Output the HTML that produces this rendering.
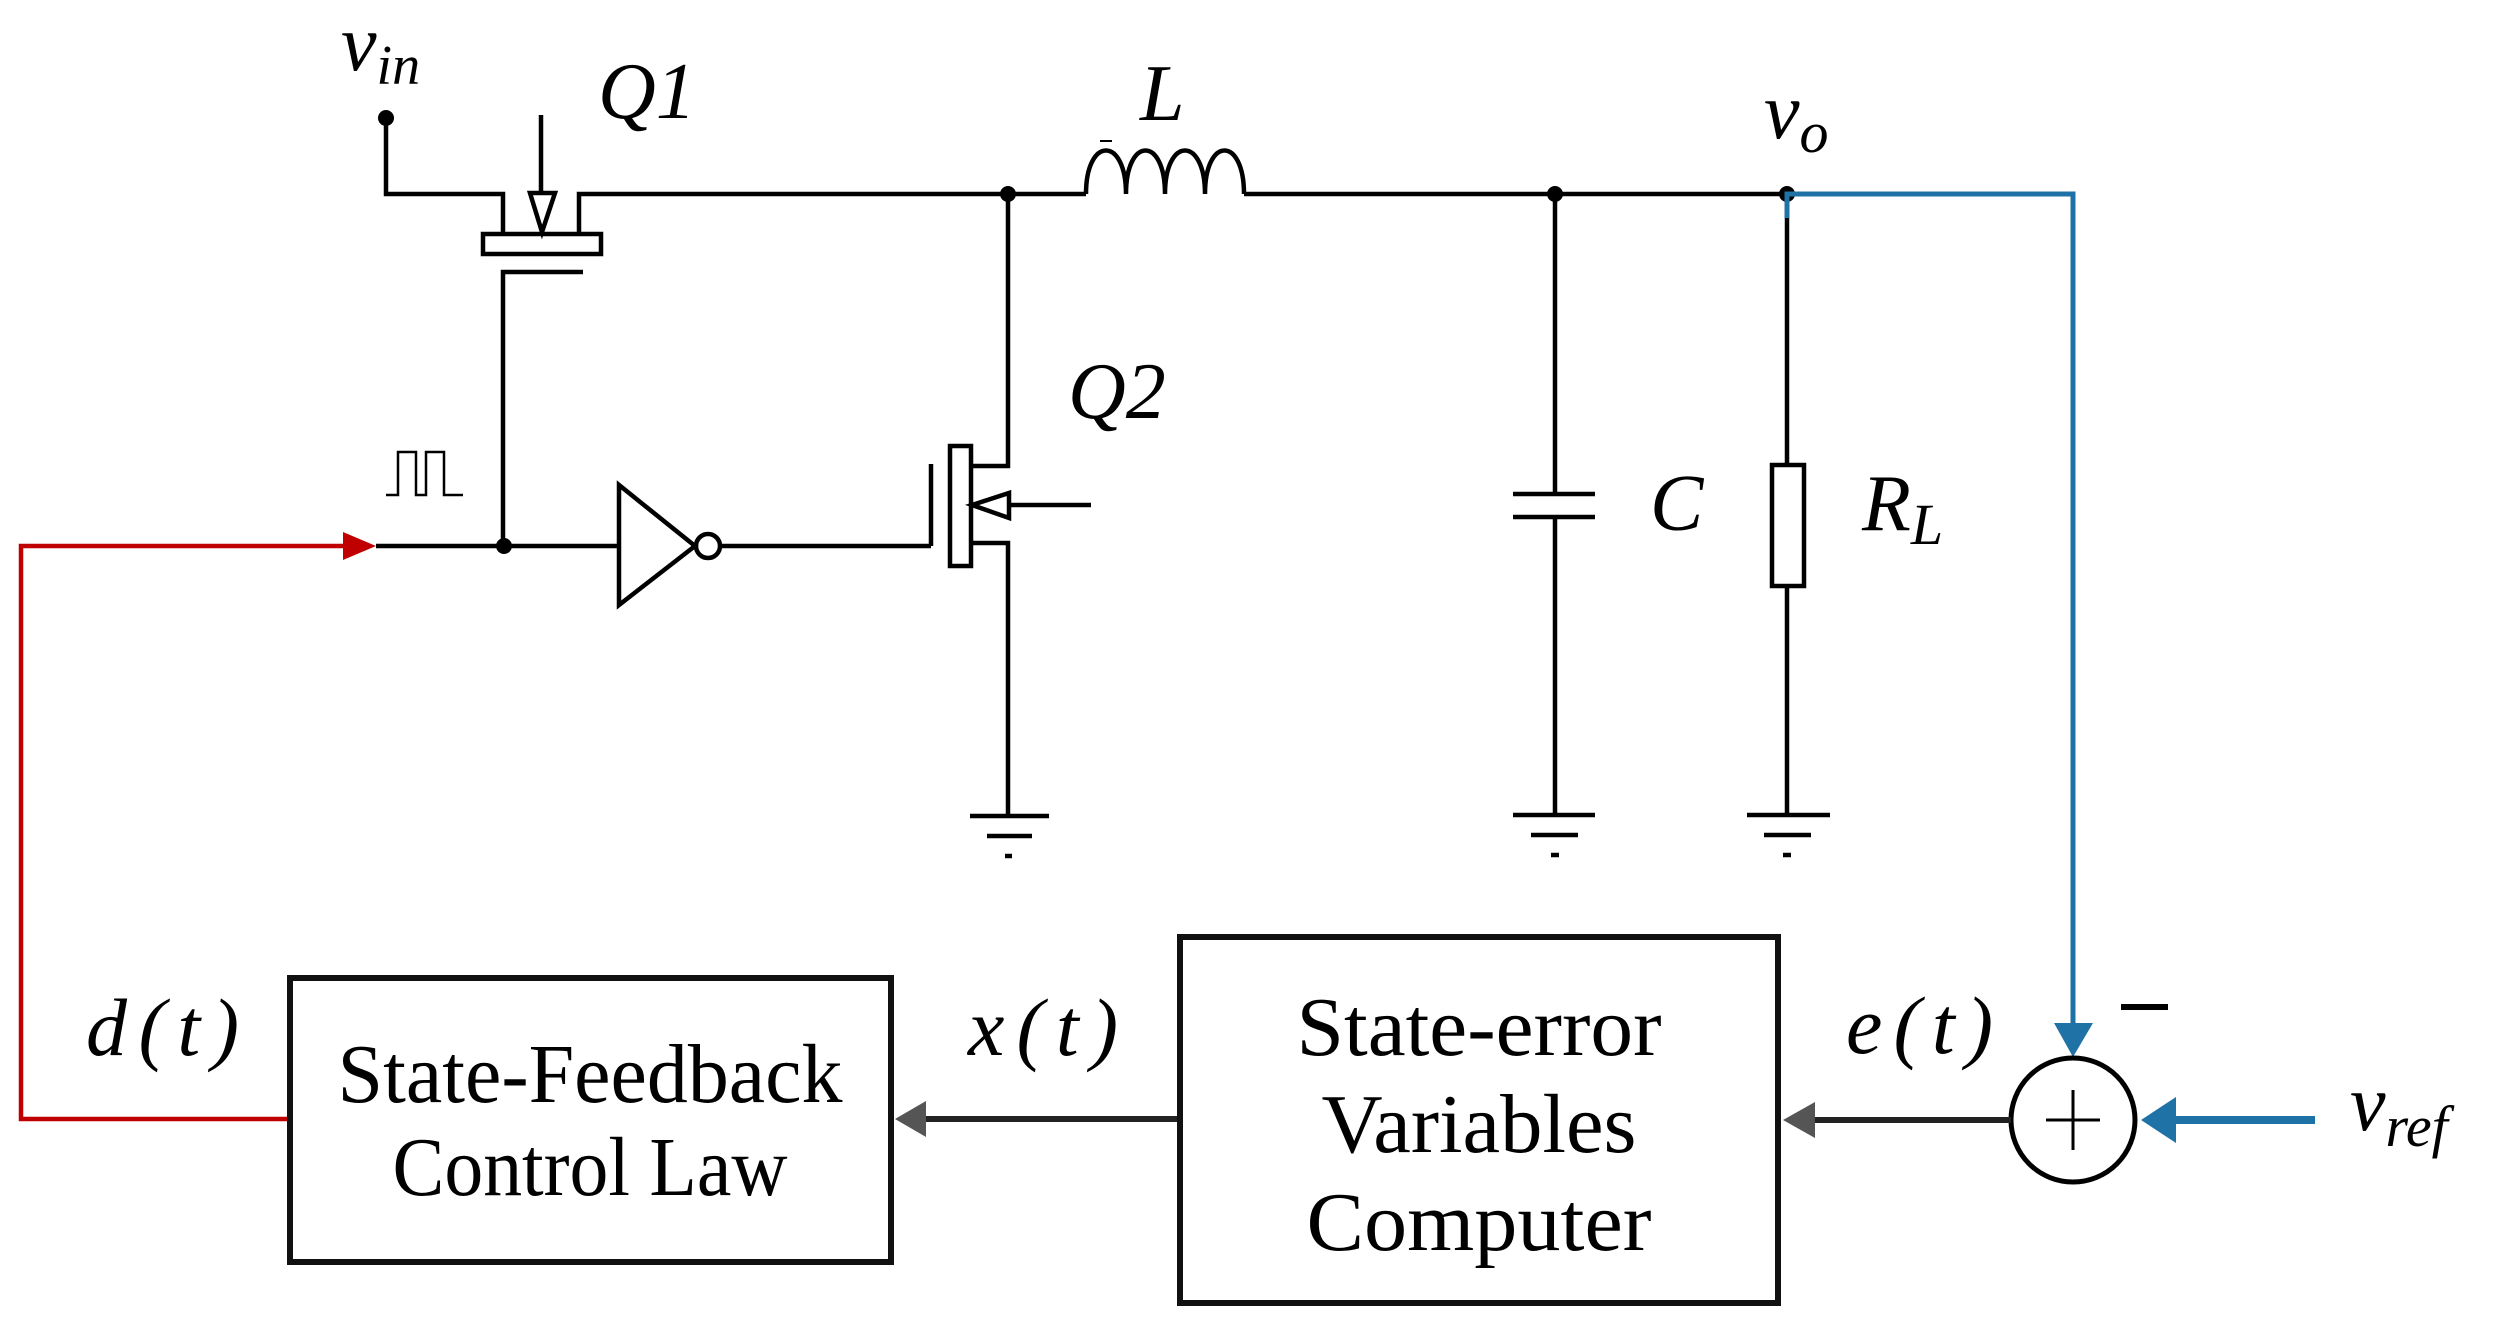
<!DOCTYPE html>
<html><head><meta charset="utf-8"><style>
html,body{margin:0;padding:0;background:#fff}
svg{display:block}
.m{font-family:"Liberation Serif",serif;font-style:italic;fill:#000}
.t{font-family:"Liberation Serif",serif;fill:#000}
</style></head><body>
<svg width="2513" height="1328" viewBox="0 0 2513 1328" xmlns="http://www.w3.org/2000/svg">
<g stroke="#000" stroke-width="4.5" fill="none">
<polyline points="386,118 386,194 503,194 503,234"/>
<polyline points="579,234 579,194 1086,194"/>
<rect x="483" y="234" width="118" height="20"/>
<polyline points="583,272 503,272 503,546"/>
<line x1="541" y1="115" x2="541" y2="193"/>
<polygon points="530,193 555,193 542,232"/>
<path d="M1086,194 C1086,136 1126,136 1126,194 C1126,136 1165,136 1165,194 C1165,136 1205,136 1205,194 C1205,136 1244,136 1244,194"/>
<line x1="1244" y1="194" x2="1787" y2="194"/>
<line x1="1100" y1="141" x2="1112" y2="141" stroke-width="2"/>
<polyline points="1008,194 1008,466 971,466"/>
<polyline points="971,543 1008,543 1008,816"/>
<rect x="950" y="446" width="21" height="120"/>
<line x1="931" y1="464" x2="931" y2="546"/>
<polygon points="972,505 1009,493 1009,518"/>
<line x1="1009" y1="505" x2="1091" y2="505"/>
<line x1="376" y1="546" x2="619" y2="546"/>
<polygon points="619,485 619,605 695,546"/>
<circle cx="708" cy="546" r="12"/>
<line x1="720" y1="546" x2="931" y2="546"/>
<polyline points="386,495 398,495 398,452 416,452 416,495 426,495 426,452 444,452 444,495 463,495" stroke-width="2.5"/>
<line x1="970" y1="816" x2="1049" y2="816"/>
<line x1="987" y1="836" x2="1032" y2="836"/>
<line x1="1005" y1="856" x2="1012" y2="856"/>
<line x1="1555" y1="194" x2="1555" y2="494"/>
<line x1="1513" y1="494" x2="1595" y2="494"/>
<line x1="1513" y1="517" x2="1595" y2="517"/>
<line x1="1555" y1="517" x2="1555" y2="815"/>
<line x1="1513" y1="815" x2="1595" y2="815"/>
<line x1="1531" y1="835" x2="1578" y2="835"/>
<line x1="1551" y1="855" x2="1559" y2="855"/>
<line x1="1787" y1="194" x2="1787" y2="465"/>
<rect x="1772" y="465" width="32" height="121"/>
<line x1="1787" y1="586" x2="1787" y2="815"/>
<line x1="1747" y1="815" x2="1830" y2="815"/>
<line x1="1764" y1="835" x2="1811" y2="835"/>
<line x1="1783" y1="855" x2="1791" y2="855"/>
</g>
<g fill="#000">
<circle cx="386" cy="118" r="8"/>
<circle cx="1008" cy="194" r="8"/>
<circle cx="504" cy="546" r="8"/>
<circle cx="1555" cy="194" r="8"/>
<circle cx="1787" cy="194" r="8"/>
</g>
<polyline points="290,1119 21,1119 21,546 345,546" stroke="#c00000" stroke-width="4.5" fill="none"/>
<polygon points="376,546 343,532 343,560" fill="#c00000"/>
<polyline points="1787,218 1787,194 2073,194 2073,1025" stroke="#1f72a6" stroke-width="5" fill="none"/>
<polygon points="2054,1023 2093,1023 2073,1057" fill="#1f72a6"/>
<line x1="2315" y1="1120" x2="2172" y2="1120" stroke="#1f72a6" stroke-width="8"/>
<polygon points="2141,1120 2176,1097 2176,1143" fill="#1f72a6"/>
<circle cx="2073" cy="1120" r="62" stroke="#000" stroke-width="5" fill="none"/>
<line x1="2073" y1="1090" x2="2073" y2="1150" stroke="#000" stroke-width="3"/>
<line x1="2046" y1="1120" x2="2100" y2="1120" stroke="#000" stroke-width="3"/>
<line x1="2121" y1="1007" x2="2168" y2="1007" stroke="#000" stroke-width="6"/>
<line x1="2011" y1="1120" x2="1812" y2="1120" stroke="#222" stroke-width="6"/>
<polygon points="1783,1120 1815,1102 1815,1138" fill="#555"/>
<line x1="1180" y1="1119" x2="922" y2="1119" stroke="#222" stroke-width="6"/>
<polygon points="895,1119 926,1101 926,1137" fill="#555"/>
<rect x="290" y="978" width="601" height="284" stroke="#111" stroke-width="6" fill="none"/>
<rect x="1180" y="937" width="598" height="366" stroke="#111" stroke-width="6" fill="none"/>
<text class="t" x="590" y="1102" font-size="84" text-anchor="middle" textLength="505" lengthAdjust="spacingAndGlyphs">State-Feedback</text>
<text class="t" x="590" y="1195" font-size="84" text-anchor="middle" textLength="395" lengthAdjust="spacingAndGlyphs">Control Law</text>
<text class="t" x="1479" y="1055" font-size="84" text-anchor="middle" textLength="365" lengthAdjust="spacingAndGlyphs">State-error</text>
<text class="t" x="1479" y="1152" font-size="84" text-anchor="middle" textLength="315" lengthAdjust="spacingAndGlyphs">Variables</text>
<text class="t" x="1479" y="1250" font-size="84" text-anchor="middle" textLength="345" lengthAdjust="spacingAndGlyphs">Computer</text>
<text class="m" x="341" y="70" font-size="80">v<tspan font-size="56" dy="14">in</tspan></text>
<text class="m" x="598" y="118" font-size="80">Q1</text>
<text class="m" x="1068" y="418" font-size="80">Q2</text>
<text class="m" x="1140" y="120" font-size="80">L</text>
<text class="m" x="1764" y="138" font-size="80">v<tspan font-size="58" dy="14">o</tspan></text>
<text class="m" x="1650" y="530" font-size="80">C</text>
<text class="m" x="1862" y="530" font-size="80">R<tspan font-size="58" dy="14">L</tspan></text>
<text class="m" x="86" y="1055" font-size="82" textLength="153" lengthAdjust="spacing">d(t)</text>
<text class="m" x="968" y="1055" font-size="82" textLength="150" lengthAdjust="spacing">x(t)</text>
<text class="m" x="1846" y="1053" font-size="82" textLength="147" lengthAdjust="spacing">e(t)</text>
<text class="m" x="2350" y="1130" font-size="80">v<tspan font-size="58" dy="16">ref</tspan></text>
</svg>
</body></html>
